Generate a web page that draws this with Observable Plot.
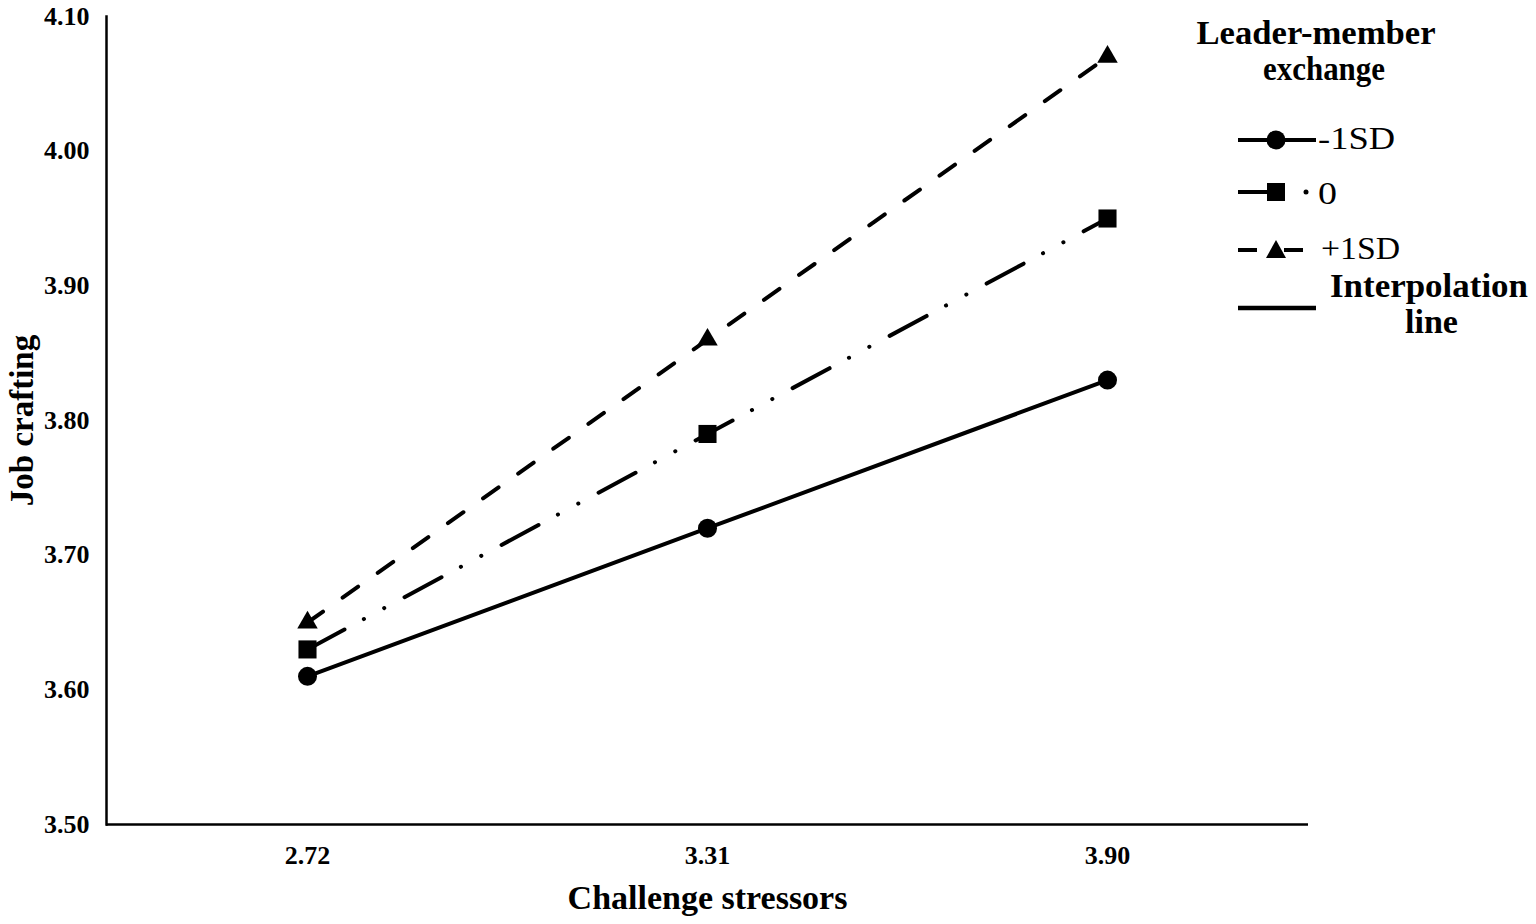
<!DOCTYPE html>
<html>
<head>
<meta charset="utf-8">
<script src="https://cdn.jsdelivr.net/npm/d3@7"></script>
<script src="https://cdn.jsdelivr.net/npm/@observablehq/plot@0.6"></script>
<style>
  html, body { margin: 0; padding: 0; background: #fff; overflow: hidden; }
  #wrap { position: relative; width: 1536px; height: 924px; }
  #chart { position: absolute; left: 0; top: 0; }
  #legend { position: absolute; left: 1180px; top: 0; }
</style>
</head>
<body>
<div id="wrap">
  <div id="chart"></div>
  <svg id="legend" width="356" height="360" viewBox="1180 0 356 360">
    <g font-family="'Liberation Serif', 'Times New Roman', serif" fill="#000">
      <text x="1316" y="44" text-anchor="middle" font-weight="bold" font-size="34" textLength="239" lengthAdjust="spacingAndGlyphs">Leader-member</text>
      <text x="1324" y="80" text-anchor="middle" font-weight="bold" font-size="34" textLength="122" lengthAdjust="spacingAndGlyphs">exchange</text>

      <line x1="1238" x2="1316" y1="140" y2="140" stroke="#000" stroke-width="4"/>
      <circle cx="1276" cy="140" r="9.5" fill="#000"/>
      <text x="1318" y="149" font-size="31" textLength="77" lengthAdjust="spacingAndGlyphs">-1SD</text>

      <line x1="1238" x2="1276" y1="192" y2="192" stroke="#000" stroke-width="4"/>
      <rect x="1267" y="183" width="18" height="18" fill="#000"/>
      <circle cx="1306" cy="192" r="2.5" fill="#000"/>
      <text x="1318" y="204" font-size="31" textLength="19" lengthAdjust="spacingAndGlyphs">0</text>

      <line x1="1238" x2="1257" y1="250" y2="250" stroke="#000" stroke-width="4"/>
      <line x1="1284" x2="1303" y1="250" y2="250" stroke="#000" stroke-width="4"/>
      <polygon points="1266,258 1286,258 1276,240" fill="#000"/>
      <text x="1321" y="259" font-size="31" textLength="79" lengthAdjust="spacingAndGlyphs">+1SD</text>

      <line x1="1238" x2="1316" y1="308" y2="308" stroke="#000" stroke-width="4.5"/>
      <text x="1330" y="297" font-weight="bold" font-size="34" textLength="198" lengthAdjust="spacingAndGlyphs">Interpolation</text>
      <text x="1405" y="333" font-weight="bold" font-size="34" textLength="53" lengthAdjust="spacingAndGlyphs">line</text>
    </g>
  </svg>
</div>
<script>
// ---- data ----
const categories = ["2.72", "3.31", "3.90"];          // challenge stressors
const lowLMX  = [3.61, 3.72, 3.83];                   // -1SD
const meanLMX = [3.63, 3.79, 3.95];                   // 0
const highLMX = [3.65, 3.86, 4.07];                   // +1SD
const yTicks  = [3.50, 3.60, 3.70, 3.80, 3.90, 4.00, 4.10];
const xTitle  = "Challenge stressors";
const yTitle  = "Job crafting";

const rows = (vals) => categories.map((c, i) => ({x: c, y: vals[i]}));
const low = rows(lowLMX), mean = rows(meanLMX), high = rows(highLMX);

const font = "'Liberation Serif', 'Times New Roman', serif";

const chart = Plot.plot({
  width: 1310,
  height: 924,
  marginLeft: 106,
  marginRight: 2,
  marginTop: 16,
  marginBottom: 100,
  style: {fontFamily: font, color: "#000", background: "#fff", overflow: "visible"},
  x: {type: "point", domain: categories, padding: 0.5},
  y: {domain: [3.5, 4.1]},
  marks: [
    Plot.axisY({ticks: yTicks, tickFormat: d => d.toFixed(2), tickSize: 0, tickPadding: 17,
      fontSize: 26, fontWeight: "bold", label: null}),
    Plot.axisX({tickSize: 0, tickPadding: 21, fontSize: 26, fontWeight: "bold", label: null}),
    Plot.ruleY([3.5], {stroke: "#000", strokeWidth: 2.5}),
    Plot.frame({anchor: "left", stroke: "#000", strokeWidth: 2.5}),
    Plot.text([yTitle], {frameAnchor: "left", dx: -84, rotate: -90, fontSize: 33,
      fontWeight: "bold", textAnchor: "middle", lineAnchor: "middle"}),
    Plot.text([xTitle], {frameAnchor: "bottom", dy: 74, fontSize: 34,
      fontWeight: "bold", textAnchor: "middle", lineAnchor: "middle"}),
    Plot.line(low,  {x: "x", y: "y", stroke: "#000", strokeWidth: 4}),
    Plot.line(mean, {x: "x", y: "y", stroke: "#000", strokeWidth: 4,
      strokeDasharray: "42,22,0.1,23,0.1,23", strokeLinecap: "round"}),
    Plot.line(high, {x: "x", y: "y", stroke: "#000", strokeWidth: 4,
      strokeDasharray: "19,24", strokeLinecap: "round"}),
    Plot.dot(low,  {x: "x", y: "y", symbol: "circle", r: 9.5, fill: "#000"}),
    Plot.dot(mean, {x: "x", y: "y", symbol: "square", r: 10.2, fill: "#000"}),
    Plot.dot(high, {x: "x", y: "y", symbol: "triangle", r: 7.6, fill: "#000"})
  ]
});
document.getElementById("chart").appendChild(chart);
</script>
</body>
</html>
